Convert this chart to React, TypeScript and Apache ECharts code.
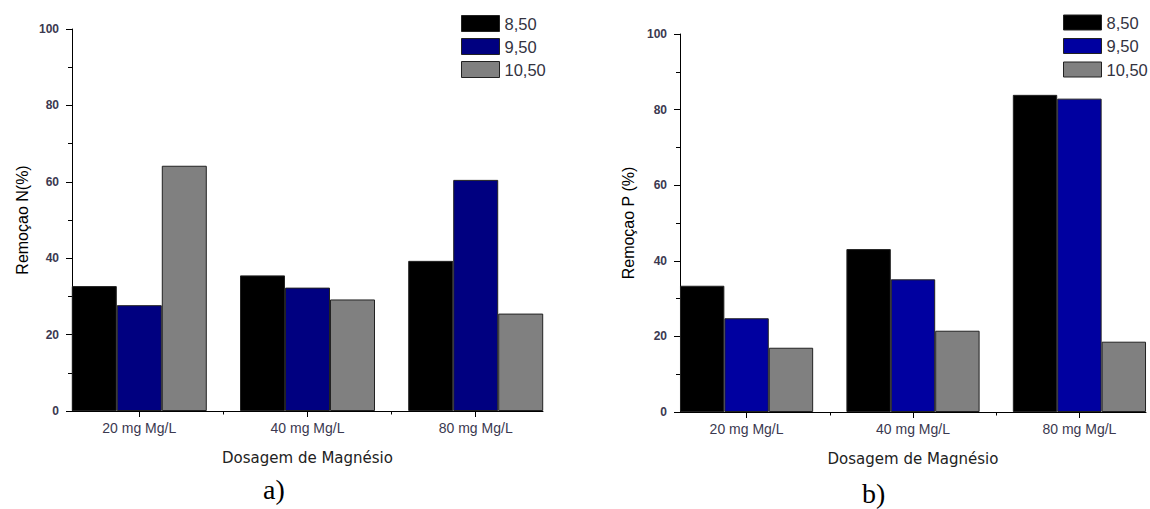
import React, { useEffect, useRef } from "react";
import * as echarts from "echarts";

const categories = ["20 mg Mg/L", "40 mg Mg/L", "80 mg Mg/L"];
const seriesNames = ["8,50", "9,50", "10,50"];

// Remoção N (%) — panel a)
const n850 = [32.7, 35.5, 39.3];
const n950 = [27.7, 32.3, 60.5];
const n1050 = [64.2, 29.2, 25.5];

// Remoção P (%) — panel b)
const p850 = [33.4, 43.1, 83.9];
const p950 = [24.8, 35.1, 82.9];
const p1050 = [17.0, 21.5, 18.6];

const yMin = 0;
const yMax = 100;
const yStep = 20;

const leftColors = ["#000000", "#000080", "#808080"];
const rightColors = ["#000000", "#0000A0", "#808080"];

const SANS = 'Arial, "Liberation Sans", sans-serif';
const LABEL_COLOR = "#3b3950";

export default function App() {
  const ref = useRef<HTMLDivElement>(null);

  useEffect(() => {
    if (!ref.current) return;
    const chart = echarts.init(ref.current, undefined, { renderer: "svg" });

    const catIdx = categories.map((_, i) => i);
    const minorVals = catIdx.slice(0, -1).map((i) => i + 0.5);

    const grids = [
      { left: 72, top: 29, width: 471, height: 382 },
      { left: 680, top: 34, width: 466, height: 378 },
    ];

    const mainX = (gridIndex: number) => ({
      type: "value",
      gridIndex,
      min: -0.4,
      max: 2.4,
      position: "bottom",
      axisLine: { show: true, onZero: false, lineStyle: { color: "#000", width: 1 } },
      axisTick: { show: true, length: 6, customValues: catIdx, lineStyle: { color: "#000" } },
      axisLabel: {
        show: true,
        customValues: catIdx,
        formatter: (v: number) => categories[Math.round(v)] ?? "",
        fontFamily: SANS,
        fontSize: 14,
        color: LABEL_COLOR,
        margin: 10,
      },
      splitLine: { show: false },
      name: "Dosagem de Magnésio",
      nameLocation: "middle",
      nameGap: 39,
      nameTextStyle: { fontFamily: '"DejaVu Sans", sans-serif', fontSize: 15, color: "#222" },
    });

    const minorX = (gridIndex: number) => ({
      type: "value",
      gridIndex,
      min: -0.4,
      max: 2.4,
      position: "bottom",
      axisLine: { show: false, onZero: false },
      axisTick: { show: true, length: 3.5, customValues: minorVals, lineStyle: { color: "#000" } },
      axisLabel: { show: false },
      splitLine: { show: false },
    });

    const mainY = (gridIndex: number, name: string, nameGap: number) => ({
      type: "value",
      gridIndex,
      min: yMin,
      max: yMax,
      interval: yStep,
      position: "left",
      axisLine: { show: true, onZero: false, lineStyle: { color: "#000", width: 1 } },
      axisTick: { show: true, length: 6, lineStyle: { color: "#000" } },
      minorTick: { show: true, splitNumber: 2, length: 4, lineStyle: { color: "#000" } },
      axisLabel: {
        fontFamily: SANS,
        fontSize: 12,
        fontWeight: "bold",
        color: LABEL_COLOR,
        margin: 13,
      },
      splitLine: { show: false },
      name,
      nameLocation: "middle",
      nameGap,
      nameTextStyle: { fontFamily: SANS, fontSize: 16, color: "#000" },
    });

    const hiddenY = (gridIndex: number) => ({
      type: "value",
      gridIndex,
      min: yMin,
      max: yMax,
      show: false,
      axisLine: { onZero: false },
    });

    const toPoints = (vals: number[]) => vals.map((v, i) => [catIdx[i], v]);

    const makeSeries = (
      arrays: number[][],
      colors: string[],
      axisIndex: number,
      barWidth: number
    ) =>
      arrays.map((vals, i) => ({
        type: "bar",
        name: seriesNames[i],
        xAxisIndex: axisIndex,
        yAxisIndex: axisIndex,
        data: toPoints(vals),
        barWidth,
        barGap: "0%",
        itemStyle: { color: colors[i], borderColor: "#222", borderWidth: 1 },
      }));

    const legendFor = (left: number, top: number, colors: string[], itemHeight: number, gap: number) => ({
      orient: "vertical",
      left,
      top,
      padding: 0,
      itemWidth: 38,
      itemHeight,
      itemGap: gap,
      icon: "rect",
      selectedMode: false,
      textStyle: { fontFamily: SANS, fontSize: 16.5, color: "#33333f", lineHeight: itemHeight },
      data: seriesNames.map((n, i) => ({
        name: n,
        itemStyle: { color: colors[i], borderColor: "#222", borderWidth: 1 },
      })),
    });

    chart.setOption({
      animation: false,
      backgroundColor: "#fff",
      grid: [grids[0], grids[1], grids[0], grids[1]],
      xAxis: [mainX(0), mainX(1), minorX(2), minorX(3)],
      yAxis: [
        mainY(0, "Remoçao N(%)", 42),
        mainY(1, "Remoçao P (%)", 44),
        hiddenY(2),
        hiddenY(3),
      ],
      legend: [
        legendFor(461, 15, leftColors, 16, 6),
        legendFor(1063, 14, rightColors, 15, 6.5),
      ],
      series: [
        ...makeSeries([n850, n950, n1050], leftColors, 0, 45),
        ...makeSeries([p850, p950, p1050], rightColors, 1, 44.4),
      ],
      graphic: [
        {
          type: "text",
          left: 263,
          top: 475,
          style: {
            text: "a)",
            font: '28px "Liberation Serif", "Times New Roman", serif',
            fill: "#000",
          },
        },
        {
          type: "text",
          left: 862,
          top: 479,
          style: {
            text: "b)",
            font: '28px "Liberation Serif", "Times New Roman", serif',
            fill: "#000",
          },
        },
      ],
    });

    return () => chart.dispose();
  }, []);

  return (
    <div
      ref={ref}
      style={{ position: "absolute", left: 0, top: 0, width: 1150, height: 509 }}
    />
  );
}
